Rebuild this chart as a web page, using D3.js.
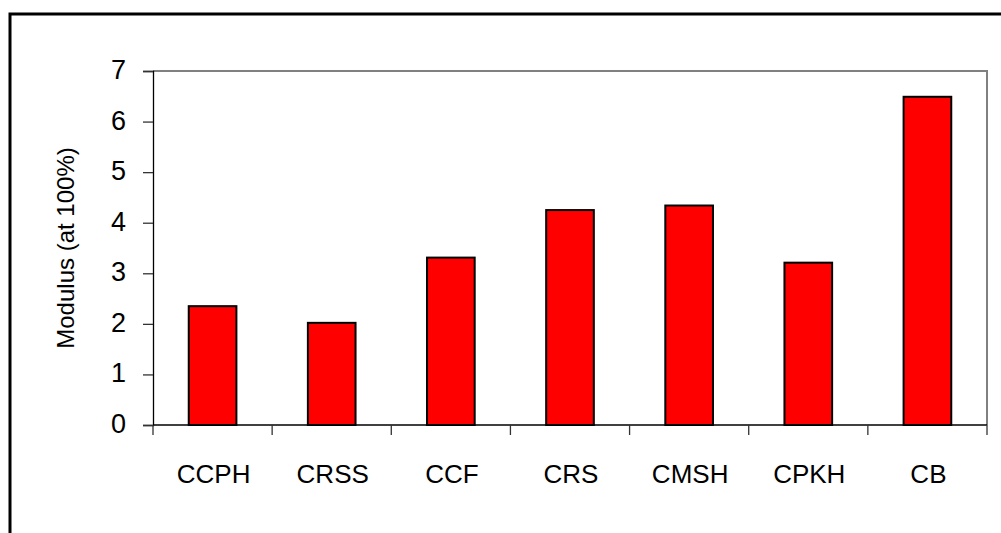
<!DOCTYPE html>
<html><head><meta charset="utf-8">
<script src="https://cdn.jsdelivr.net/npm/d3@7"></script>
<style>html,body{margin:0;padding:0;background:#fff;overflow:hidden}</style>
</head><body>
<svg id="chart" width="1001" height="533"></svg>
<script>
const categories = ["CCPH","CRSS","CCF","CRS","CMSH","CPKH","CB"];
const values = [2.35, 2.02, 3.31, 4.25, 4.34, 3.21, 6.49];
const yTicks = [0,1,2,3,4,5,6,7];
const yLabel = "Modulus (at 100%)";

const svg = d3.select("#chart");
const font = "'Liberation Sans', Arial, sans-serif";
const L = 153, T = 71, R = 987, B = 425;

// outer frame
svg.append("rect").attr("x",10).attr("y",14).attr("width",1000).attr("height",530)
  .attr("fill","none").attr("stroke","#000").attr("stroke-width",3);

const x = d3.scaleBand().domain(categories).range([L,R]).paddingInner(0.6).paddingOuter(0.3);
const xb = d3.scaleBand().domain(categories).range([L,R]);
const y = d3.scaleLinear().domain([0,7]).range([B,T]);

// plot area border (top & right gray)
svg.append("path").attr("d",`M${L},${T}H${R}V${B}`).attr("fill","none")
  .attr("stroke","#808080").attr("stroke-width",2);

// bars
svg.append("g").selectAll("rect").data(values).join("rect")
  .attr("x",(d,i)=>x(categories[i])).attr("width",x.bandwidth())
  .attr("y",d=>y(d)).attr("height",d=>B-y(d))
  .attr("fill","#ff0000").attr("stroke","#000").attr("stroke-width",2);

// y axis
const yAxis = d3.axisLeft(y).tickValues(yTicks).tickSize(10).tickPadding(17).tickFormat(d3.format("d"));
const gy = svg.append("g").attr("transform",`translate(${L},0)`).call(yAxis);
gy.select(".domain").attr("stroke","#000").attr("stroke-width",1.3);
gy.selectAll(".tick line").attr("stroke","#333").attr("stroke-width",1.3);
gy.selectAll(".tick text").attr("font-family",font).attr("font-size",27).attr("fill","#000")
  .attr("dy","0.28em");

// x axis: ticks at category boundaries
const bounds = categories.map(c=>xb(c)).concat([R]);
const gx = svg.append("g");
gx.append("line").attr("x1",L).attr("x2",R).attr("y1",B).attr("y2",B)
  .attr("stroke","#000").attr("stroke-width",1.3);
gx.selectAll("line.t").data(bounds).join("line").attr("class","t")
  .attr("x1",d=>d).attr("x2",d=>d).attr("y1",B).attr("y2",B+10)
  .attr("stroke","#333").attr("stroke-width",1.3);
gx.selectAll("text").data(categories).join("text")
  .attr("x",d=>xb(d)+xb.bandwidth()/2+1).attr("y",483)
  .attr("text-anchor","middle").attr("font-family",font).attr("font-size",26)
  .attr("fill","#000").text(d=>d);

// y label
svg.append("text").attr("transform","translate(74,248) rotate(-90)")
  .attr("text-anchor","middle").attr("font-family",font).attr("font-size",24)
  .attr("fill","#000").text(yLabel);
</script>
</body></html>
